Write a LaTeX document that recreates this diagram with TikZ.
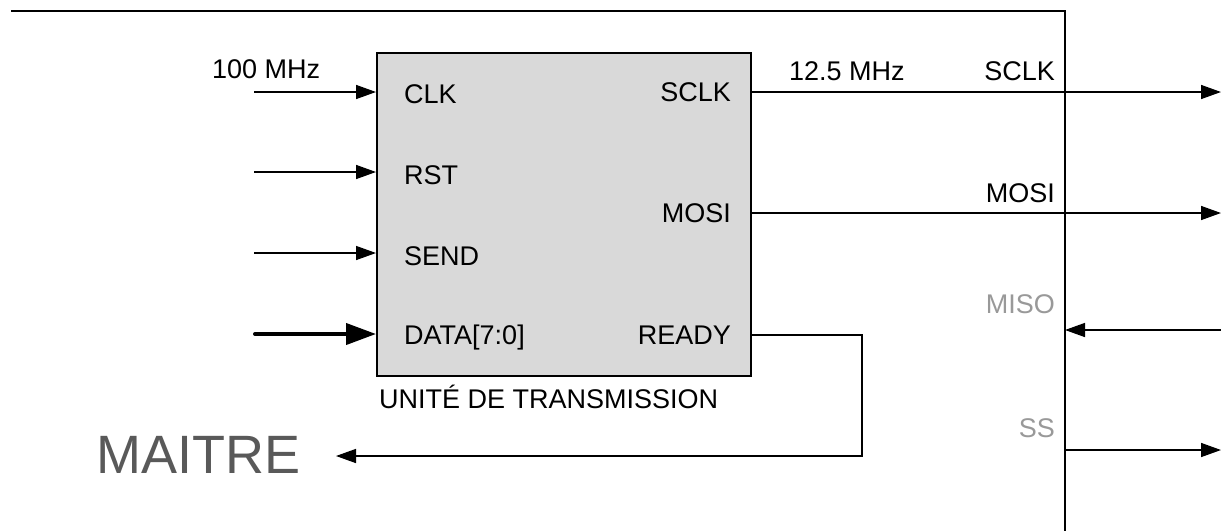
\documentclass[tikz,border=0pt]{standalone}
\usepackage{fontspec}
\setmainfont{Liberation Sans}
\usetikzlibrary{arrows.meta}
\definecolor{boxfill}{HTML}{D9D9D9}
\definecolor{titlegray}{HTML}{595959}
\definecolor{pingray}{HTML}{999999}

\begin{document}
\begin{tikzpicture}[x=1pt,y=-1pt,
  wire/.style={line width=1.5pt, -{Triangle[length=20pt,width=14pt]}},
  bus/.style={line width=4pt, line cap=round, -{Triangle[length=30pt,width=21pt]}},
  frame/.style={line width=1.5pt},
  lbl/.style={inner sep=0pt, font=\fontsize{27}{31}\selectfont},
  lblw/.style={lbl, anchor=base west},
  lble/.style={lbl, anchor=base east},
  faint/.style={text=pingray}]
\useasboundingbox (0,0) rectangle (1221,531);

% transmission unit
\node[draw, fill=boxfill, line width=1.5pt, minimum width=374pt, minimum height=323pt,
      inner sep=0pt, anchor=north west] (tx) at (376,52) {};

% master boundary (top and right edges)
\coordinate (frameTL) at (11,11);
\coordinate (frameTR) at (1065,11);
\coordinate (frameBR) at (1065,531);
\draw[frame] (frameTL) -- (frameTR) -- (frameBR);

% input pins
\coordinate (clkIn)  at (254,92);
\coordinate (rstIn)  at (254,172);
\coordinate (sendIn) at (254,253);
\coordinate (dataIn) at (255,334);
\draw[wire] (clkIn)  -- (clkIn -| tx.west);
\draw[wire] (rstIn)  -- (rstIn -| tx.west);
\draw[wire] (sendIn) -- (sendIn -| tx.west);
\draw[bus]  (dataIn) -- (dataIn -| tx.west);

% output pins
\coordinate (sclkOut) at (1221,92);
\coordinate (mosiOut) at (1221,213);
\coordinate (misoIn)  at (1221,330);
\coordinate (ssOut)   at (1221,450);
\coordinate (rdyPin)  at (750,335);
\coordinate (rdyTurn) at (862,456);
\coordinate (rdyEnd)  at (336,456);
\draw[wire] (sclkOut -| tx.east) -- (sclkOut);
\draw[wire] (mosiOut -| tx.east) -- (mosiOut);
\draw[wire] (misoIn) -- (misoIn -| frameTR);
\draw[wire] (ssOut -| frameTR) -- (ssOut);
\draw[wire] (rdyPin) -| (rdyTurn) -- (rdyEnd);

% pin names inside the unit
\node[lblw] (lclk)  at (404,103) {CLK};
\node[lblw] (lrst)  at (404,184) {RST};
\node[lblw] (lsend) at (404,265) {SEND};
\node[lblw] (ldata) at (404,344) {DATA[7:0]};
\node[lble] (lsclk) at (731,101) {SCLK};
\node[lble] (lmosi) at (731,222) {MOSI};
\node[lble] (lrdy)  at (731,344) {READY};
\node[lblw] (lunit) at (379,408) {UNITÉ DE TRANSMISSION};

% signal annotations
\node[lblw] (f100) at (212,78) {100 MHz};
\node[lblw] (f125) at (789,80) {12.5 MHz};
\node[lble] (psclk) at (1055,80)  {SCLK};
\node[lble] (pmosi) at (1055,202) {MOSI};
\node[lble, faint] (pmiso) at (1055,313) {MISO};
\node[lble, faint] (pss)   at (1055,437) {SS};

% block title
\node[inner sep=0pt, anchor=base west, text=titlegray,
      font=\fontsize{54}{60}\selectfont] (title) at (96,473) {MAITRE};
\end{tikzpicture}
\end{document}
